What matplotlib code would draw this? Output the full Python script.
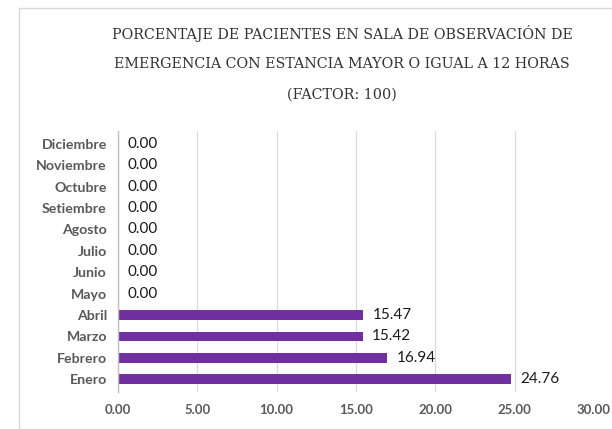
import matplotlib.pyplot as plt
from matplotlib.patches import Rectangle

meses = ["Enero", "Febrero", "Marzo", "Abril", "Mayo", "Junio", "Julio",
         "Agosto", "Setiembre", "Octubre", "Noviembre", "Diciembre"]
valores = [24.76, 16.94, 15.42, 15.47, 0.00, 0.00, 0.00, 0.00, 0.00, 0.00, 0.00, 0.00]
x_ticks = [0, 5, 10, 15, 20, 25, 30]

titulo = ["PORCENTAJE DE PACIENTES EN SALA DE OBSERVACIÓN DE",
          "EMERGENCIA CON ESTANCIA MAYOR O IGUAL A 12 HORAS",
          "(FACTOR: 100)"]

fig = plt.figure(figsize=(6.12, 4.29), dpi=100)
W, H = 612, 429

# marco del grafico
fig.patches.append(Rectangle((19 / W, 0), 1.0, 1 - 8 / H, transform=fig.transFigure,
                             fill=False, edgecolor="#d9d9d9", linewidth=1.0))

ax = fig.add_axes([118 / W, 1 - 392 / H, (594 - 118) / W, (392 - 131) / H])

pos = range(len(meses))
ax.barh(pos, valores, height=0.45, color="#7030a0")
for p, v in zip(pos, valores):
    ax.text(v + 0.6, p, f"{v:.2f}", va="center", ha="left", fontsize=11,
            color="#1a1a1a", family="Lato")

ax.set_xlim(0, 30)
ax.set_ylim(-0.6, len(meses) - 0.4)
ax.set_xticks(x_ticks)
ax.set_xticklabels([f"{t:.2f}" for t in x_ticks], fontsize=9.5, color="#595959",
                   fontweight="bold", family="Lato")
ax.set_yticks(list(pos))
ax.set_yticklabels(meses, fontsize=10.2, color="#595959", fontweight="bold",
                   family="Lato")
ax.tick_params(axis="both", length=0)
ax.tick_params(axis="x", pad=9)
ax.tick_params(axis="y", pad=8)
ax.grid(axis="x", color="#d9d9d9", linewidth=0.8)
ax.set_axisbelow(True)
for s in ["top", "right", "bottom"]:
    ax.spines[s].set_visible(False)
ax.spines["left"].set_color("#bfbfbf")
ax.spines["left"].set_linewidth(1.0)

for linea, y in zip(titulo, [33, 64, 95]):
    fig.text(342 / W, 1 - y / H, linea, ha="center", va="center", fontsize=10.3,
             color="#333333", family="DejaVu Serif")

fig.savefig("out.png", dpi=100)
